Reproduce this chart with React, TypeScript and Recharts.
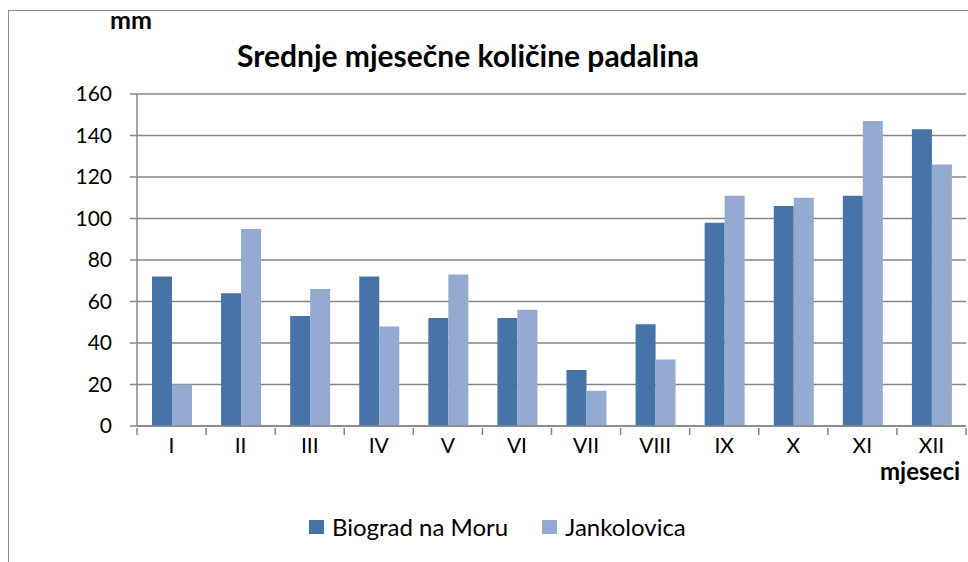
import React from 'react';
import { BarChart, Bar, XAxis, YAxis, CartesianGrid, Legend } from 'recharts';

const categories = ['I', 'II', 'III', 'IV', 'V', 'VI', 'VII', 'VIII', 'IX', 'X', 'XI', 'XII'];
const biograd = [72, 64, 53, 72, 52, 52, 27, 49, 98, 106, 111, 143];
const jankolovica = [20, 95, 66, 48, 73, 56, 17, 32, 111, 110, 147, 126];
const yTicks = [0, 20, 40, 60, 80, 100, 120, 140, 160];

const seriesNames = ['Biograd na Moru', 'Jankolovica'];
const seriesColors = ['#4673A8', '#95AAD1'];
const title = 'Srednje mjesečne količine padalina';
const yUnit = 'mm';
const xUnit = 'mjeseci';

const data = categories.map((c, i) => ({ cat: c, b: biograd[i], j: jankolovica[i] }));

const FONT = 'Lato, "Open Sans", sans-serif';
const AXIS = '#868686';

const XTick = (props: any) => {
  const { x, y, payload, index } = props;
  const half = payload && payload.offset ? payload.offset : 34.5;
  return (
    <g>
      <line x1={x - half} x2={x - half} y1={y} y2={y + 7} stroke={AXIS} strokeWidth={1.5} />
      {index === categories.length - 1 && (
        <line x1={x + half} x2={x + half} y1={y} y2={y + 7} stroke={AXIS} strokeWidth={1.5} />
      )}
      <text x={x} y={y + 25} textAnchor="middle" fontSize={21} fontFamily={FONT} fill="#000">
        {payload.value}
      </text>
    </g>
  );
};

const LegendContent = (props: any) => {
  const { payload } = props;
  return (
    <div style={{ display: 'flex', alignItems: 'center', fontFamily: FONT, fontSize: 24, color: '#000', whiteSpace: 'nowrap' }}>
      {(payload || []).map((p: any, i: number) => (
        <div key={i} style={{ display: 'flex', alignItems: 'center', marginRight: 34 }}>
          <div style={{ width: 15, height: 14, background: p.color, marginRight: 8 }} />
          <span>{p.value}</span>
        </div>
      ))}
    </div>
  );
};

export default function App() {
  return (
    <div style={{ position: 'absolute', left: 0, top: 0, width: 968, height: 562, overflow: 'hidden', background: '#fff' }}>
      <div style={{ position: 'absolute', left: 0, top: 0 }}>
        <BarChart
          width={968}
          height={562}
          data={data}
          margin={{ top: 94, right: 2, bottom: 96, left: 77 }}
          barCategoryGap={15}
          barGap={0}
        >
          <CartesianGrid vertical={false} stroke={AXIS} strokeWidth={1.5} />
          <XAxis
            dataKey="cat"
            height={40}
            tickSize={0}
            tickLine={false}
            axisLine={{ stroke: AXIS, strokeWidth: 1.5 }}
            tick={<XTick />}
            interval={0}
          />
          <YAxis
            width={60}
            domain={[0, 160]}
            ticks={yTicks}
            tickSize={7}
            tickMargin={18}
            tickLine={{ stroke: AXIS, strokeWidth: 1.5 }}
            axisLine={{ stroke: AXIS, strokeWidth: 1.5 }}
            tick={{ fill: '#000', fontSize: 21, fontFamily: FONT }}
          />
          <Legend
            layout="horizontal"
            verticalAlign="middle"
            align="center"
            content={<LegendContent />}
            wrapperStyle={{ top: 512, left: 309, width: 500 }}
          />
          <Bar dataKey="b" name={seriesNames[0]} fill={seriesColors[0]} isAnimationActive={false} />
          <Bar dataKey="j" name={seriesNames[1]} fill={seriesColors[1]} isAnimationActive={false} />
        </BarChart>
      </div>
      <div style={{ position: 'absolute', left: 8, top: 10, width: 1000, height: 600, borderLeft: '1.5px solid #8c8c8c', borderTop: '1.5px solid #8c8c8c', pointerEvents: 'none' }} />
      <div style={{ position: 'absolute', left: 110, top: 4, fontFamily: FONT, fontWeight: 700, fontSize: 25, lineHeight: '30px', color: '#000' }}>{yUnit}</div>
      <div style={{ position: 'absolute', left: 237, top: 37, fontFamily: FONT, fontWeight: 700, fontSize: 30, lineHeight: '36px', color: '#000', whiteSpace: 'nowrap' }}>{title}</div>
      <div style={{ position: 'absolute', left: 880, top: 461, fontFamily: FONT, fontWeight: 700, fontSize: 24, lineHeight: '20px', color: '#000' }}>{xUnit}</div>
    </div>
  );
}
